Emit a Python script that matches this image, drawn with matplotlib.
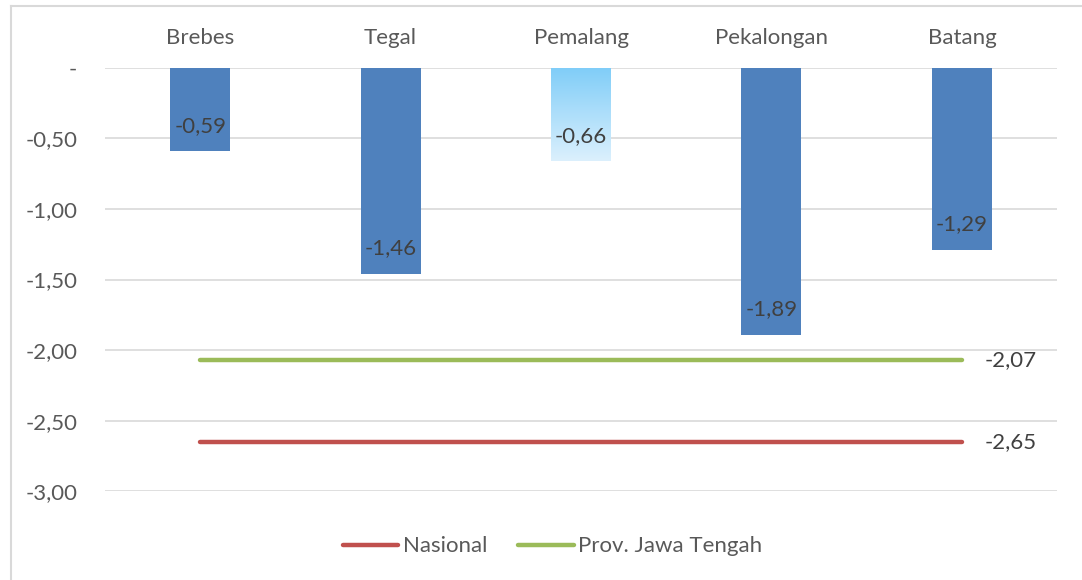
import matplotlib.pyplot as plt
import numpy as np
from matplotlib.lines import Line2D
from matplotlib.colors import LinearSegmentedColormap

plt.rcParams['font.family'] = ['Lato', 'DejaVu Sans']

# data
kabupaten = ['Brebes', 'Tegal', 'Pemalang', 'Pekalongan', 'Batang']
nilai = [-0.59, -1.46, -0.66, -1.89, -1.29]
nasional = -2.65
jateng = -2.07
yticks = [0, -0.5, -1.0, -1.5, -2.0, -2.5, -3.0]

BLUE = '#4f81bd'
RED = '#c0504d'
GREEN = '#9bbb59'
TXT = '#595959'
FS = 16


def fmt(v):
    return ('%.2f' % v).replace('.', ',')


fig = plt.figure(figsize=(10.82, 5.80), dpi=100)
ax = fig.add_axes([0.097, 0.153, 0.880, 0.730])

x = np.arange(len(kabupaten))
lebar = 0.315
bars = ax.bar(x, nilai, width=lebar, color=BLUE, zorder=2)

# Pemalang pakai gradasi biru muda
b = bars[2]
b.set_facecolor('none')
grad = np.linspace(0, 1, 256).reshape(-1, 1)
cm = LinearSegmentedColormap.from_list('g', ['#7fcdf8', '#dcf0fd'])
im = ax.imshow(grad, cmap=cm, aspect='auto', zorder=2,
               extent=[b.get_x(), b.get_x() + b.get_width(), nilai[2], 0])
im.set_clip_path(b)

for xi, v in zip(x, nilai):
    ax.text(xi, v + 0.18, fmt(v), ha='center', va='center', fontsize=FS, color='#404040', zorder=3)

# garis nasional dan provinsi
ax.plot([x[0], x[-1]], [nasional, nasional], color=RED, lw=3.2, solid_capstyle='round', label='Nasional', zorder=3)
ax.plot([x[0], x[-1]], [jateng, jateng], color=GREEN, lw=3.2, solid_capstyle='round', label='Prov. Jawa Tengah', zorder=3)
ax.text(x[-1] + 0.12, jateng, fmt(jateng), ha='left', va='center', fontsize=FS, color='#404040')
ax.text(x[-1] + 0.12, nasional, fmt(nasional), ha='left', va='center', fontsize=FS, color='#404040')

ax.set_xlim(-0.5, len(kabupaten) - 0.5)
ax.set_ylim(-3.0, 0)
ax.set_yticks(yticks)
ax.set_yticklabels(['-' if t == 0 else fmt(t) for t in yticks])
ax.xaxis.tick_top()
ax.set_xticks(x)
ax.set_xticklabels(kabupaten)
ax.tick_params(axis='both', length=0, labelsize=FS, colors=TXT)
ax.tick_params(axis='x', pad=14)
ax.tick_params(axis='y', pad=20)
ax.grid(axis='y', color='#d9d9d9', lw=1.2, zorder=0)
ax.set_axisbelow(True)
for s in ax.spines.values():
    s.set_visible(False)

leg = ax.legend(loc='center', bbox_to_anchor=(0.47, -0.13), ncol=2, frameon=False,
                fontsize=FS, handlelength=2.5, handletextpad=0.2, columnspacing=1.4)
for t in leg.get_texts():
    t.set_color(TXT)

# bingkai luar (hanya sisi atas dan kiri yang terlihat)
x0, y0 = 10.5 / 1082, 1 - 5.5 / 580
fig.lines.append(Line2D([x0, 1], [y0, y0], transform=fig.transFigure, color='#d9d9d9', lw=1.5))
fig.lines.append(Line2D([x0, x0], [0, y0], transform=fig.transFigure, color='#d9d9d9', lw=1.5))

fig.savefig('out.png', dpi=100)
